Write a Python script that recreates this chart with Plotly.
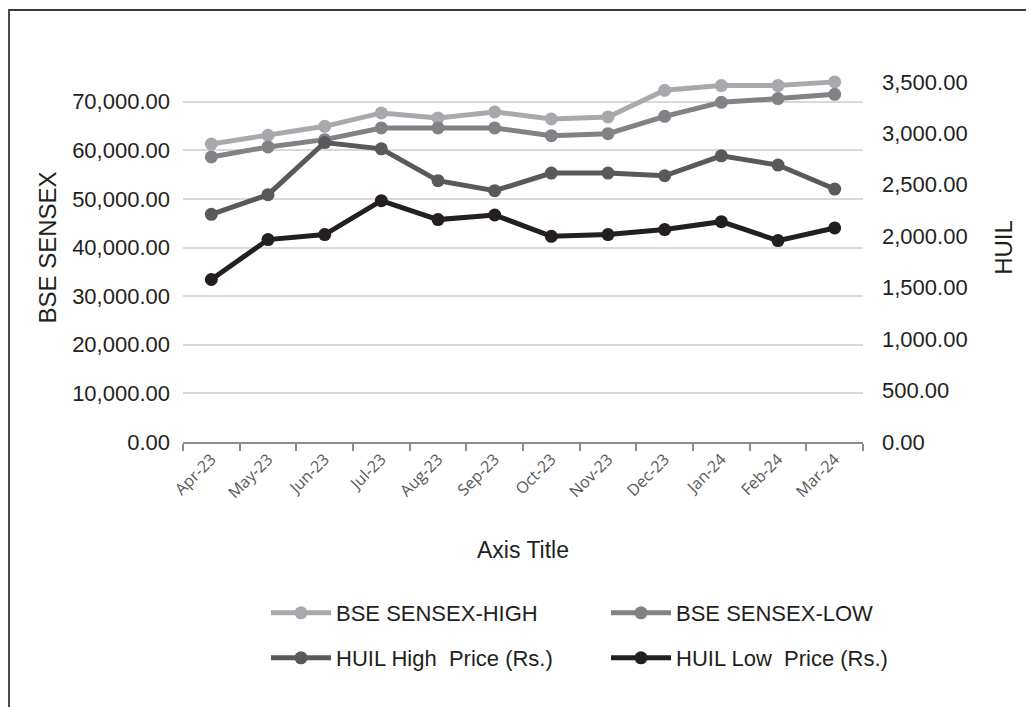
import plotly.graph_objects as go

months = ["Apr-23", "May-23", "Jun-23", "Jul-23", "Aug-23", "Sep-23",
          "Oct-23", "Nov-23", "Dec-23", "Jan-24", "Feb-24", "Mar-24"]
sensex_high = [61290, 63060, 64920, 67680, 66650, 67880, 66440, 66850, 72330, 73300, 73300, 74060]
sensex_low = [58620, 60680, 62180, 64590, 64590, 64590, 63000, 63410, 66980, 69860, 70620, 71510]
huil_high = [2212, 2403, 2910, 2849, 2539, 2442, 2613, 2613, 2587, 2781, 2691, 2458]
huil_low = [1579, 1967, 2016, 2345, 2161, 2206, 1999, 2016, 2064, 2141, 1957, 2080]

left_ticks = [0, 10000, 20000, 30000, 40000, 50000, 60000, 70000]
right_ticks = [0, 500, 1000, 1500, 2000, 2500, 3000, 3500]

W, H = 1034, 707
OFF = 8  # page body offset
PL, PR, PT, PB = 183, 863, 53, 442  # plot box in screen pixels
pw, ph = PR - PL, PB - PT
L, T = PL - OFF, PT - OFF
R, B = W - L - pw, H - T - ph


def px_x(p):
    return (p - PL) / pw


def px_y(p):
    return (PB - p) / ph


FONT = "Liberation Sans, Arial, sans-serif"
TXT = "#231f20"

series = [
    ("BSE SENSEX-HIGH", sensex_high, "#a7a9ac", "y"),
    ("BSE SENSEX-LOW", sensex_low, "#808285", "y"),
    ("HUIL High  Price (Rs.)", huil_high, "#58595b", "y2"),
    ("HUIL Low  Price (Rs.)", huil_low, "#231f20", "y2"),
]
legend_pos = [(266, 613), (606, 613), (266, 658), (606, 658)]
legend_ids = ["legend", "legend2", "legend3", "legend4"]

fig = go.Figure()
for (name, vals, col, ax), lid in zip(series, legend_ids):
    fig.add_trace(go.Scatter(
        x=months, y=vals, name=name, mode="lines+markers",
        line=dict(color=col, width=5),
        marker=dict(color=col, size=13),
        yaxis=ax, legend=lid,
    ))

legends = {}
for lid, (lx, ly) in zip(legend_ids, legend_pos):
    legends[lid] = dict(
        orientation="h", xanchor="left", yanchor="middle",
        x=px_x(lx), y=px_y(ly), itemwidth=60,
        font=dict(family=FONT, size=22, color=TXT),
        bgcolor="rgba(0,0,0,0)", itemclick=False, itemdoubleclick=False,
    )

fig.update_layout(
    width=W, height=H,
    margin=dict(l=L, r=R, t=T, b=B, autoexpand=False),
    paper_bgcolor="white", plot_bgcolor="white",
    showlegend=True,
    xaxis=dict(
        type="category", range=[-0.5, 11.5],
        showgrid=False, showline=True, linecolor="#8c8c8c", linewidth=1.5,
        ticks="outside", tickson="boundaries", ticklen=7, tickcolor="#8c8c8c", tickwidth=1.5,
        tickangle=-45, tickfont=dict(family="Open Sans, sans-serif", size=16, color="#595959"),
        title=dict(text="Axis Title", font=dict(family=FONT, size=23, color=TXT), standoff=40),
        automargin=False,
    ),
    yaxis=dict(
        range=[0, 80000], tickvals=left_ticks, tickformat=",.2f",
        showgrid=True, gridcolor="#d9d9d9", gridwidth=1.5,
        showline=False, zeroline=False, ticks="",
        tickfont=dict(family=FONT, size=22, color=TXT), ticklabelstandoff=12,
        title=dict(text="BSE SENSEX", font=dict(family=FONT, size=24, color=TXT), standoff=8),
        automargin=False,
    ),
    yaxis2=dict(
        range=[0, 3780], tickvals=right_ticks, tickformat=",.2f",
        overlaying="y", side="right",
        showgrid=False, showline=False, zeroline=False, ticks="",
        tickfont=dict(family=FONT, size=22, color=TXT), ticklabelstandoff=18,
        title=dict(text="HUIL", font=dict(family=FONT, size=24, color=TXT), standoff=28),
        automargin=False,
    ),
    shapes=[dict(
        type="rect", xref="paper", yref="paper",
        x0=px_x(9), x1=px_x(1060), y0=px_y(730), y1=px_y(10),
        line=dict(color="#3a3a3a", width=1.8), fillcolor="rgba(0,0,0,0)",
    )],
    **legends,
)

fig.write_html("out.html")
